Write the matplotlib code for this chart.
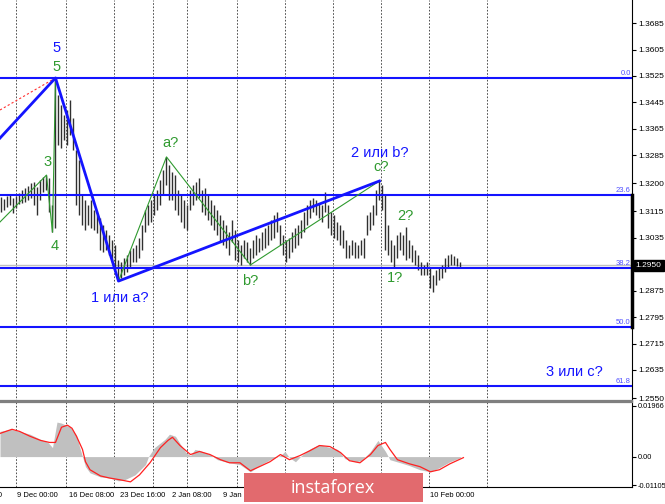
import matplotlib
matplotlib.use("Agg")
import matplotlib.pyplot as plt
from matplotlib.patches import Rectangle
from matplotlib.transforms import blended_transform_factory

plt.rcParams['font.family'] = ['Liberation Sans', 'DejaVu Sans']

# H4 bars (high / low)
bar_high = [1.3158, 1.3152, 1.3161, 1.3164, 1.3155, 1.3161, 1.3170, 1.3180, 1.3186, 1.3192,
            1.3201, 1.3204, 1.3189, 1.3210, 1.3219, 1.3225, 1.3216, 1.3134, 1.3519, 1.3467,
            1.3437, 1.3407, 1.3422, 1.3452, 1.3398, 1.3301, 1.3270, 1.3164, 1.3149, 1.3134,
            1.3149, 1.3119, 1.3104, 1.3095, 1.3074, 1.3058, 1.3043, 1.3028, 1.3013, 1.2968,
            1.2962, 1.2974, 1.2983, 1.2998, 1.3004, 1.3013, 1.3035, 1.3074, 1.3119, 1.3134,
            1.3149, 1.3164, 1.3180, 1.3210, 1.3240, 1.3280, 1.3255, 1.3234, 1.3225, 1.3180,
            1.3164, 1.3149, 1.3134, 1.3180, 1.3195, 1.3204, 1.3216, 1.3180, 1.3186, 1.3164,
            1.3149, 1.3134, 1.3119, 1.3104, 1.3089, 1.3074, 1.3053, 1.3089, 1.3058, 1.3028,
            1.3013, 1.3028, 1.3022, 1.3004, 1.3028, 1.3043, 1.3035, 1.3053, 1.3064, 1.3074,
            1.3089, 1.3104, 1.3113, 1.3074, 1.3043, 1.3028, 1.3035, 1.3053, 1.3064, 1.3074,
            1.3089, 1.3113, 1.3134, 1.3149, 1.3155, 1.3149, 1.3140, 1.3134, 1.3174, 1.3134,
            1.3113, 1.3104, 1.3083, 1.3074, 1.3058, 1.3028, 1.3013, 1.3028, 1.3022, 1.3013,
            1.3028, 1.3035, 1.3104, 1.3113, 1.3134, 1.3180, 1.3207, 1.3195, 1.3164, 1.3074,
            1.3028, 1.3013, 1.3043, 1.3053, 1.3043, 1.3068, 1.3028, 1.3013, 1.2998, 1.2983,
            1.2962, 1.2953, 1.2962, 1.2944, 1.2923, 1.2937, 1.2944, 1.2953, 1.2974, 1.2983,
            1.2986, 1.2980, 1.2974, 1.2962]
bar_low = [1.3113, 1.3119, 1.3128, 1.3134, 1.3110, 1.3125, 1.3137, 1.3140, 1.3143, 1.3149,
           1.3155, 1.3134, 1.3104, 1.3149, 1.3174, 1.3180, 1.3113, 1.3052, 1.3064, 1.3316,
           1.3307, 1.3331, 1.3316, 1.3346, 1.3301, 1.3134, 1.3104, 1.3074, 1.3058, 1.3074,
           1.3064, 1.3058, 1.3049, 1.2998, 1.2992, 1.2998, 1.2983, 1.2962, 1.2937, 1.2904,
           1.2913, 1.2923, 1.2932, 1.2944, 1.2962, 1.2962, 1.2974, 1.2998, 1.3052, 1.3074,
           1.3083, 1.3104, 1.3119, 1.3134, 1.3164, 1.3195, 1.3149, 1.3149, 1.3119, 1.3104,
           1.3083, 1.3064, 1.3058, 1.3119, 1.3134, 1.3149, 1.3155, 1.3113, 1.3104, 1.3089,
           1.3074, 1.3058, 1.3043, 1.3022, 1.3013, 1.3004, 1.2983, 1.3022, 1.2968, 1.2962,
           1.2953, 1.2974, 1.2962, 1.2953, 1.2974, 1.2983, 1.2992, 1.2998, 1.3004, 1.3013,
           1.3028, 1.3035, 1.3053, 1.3013, 1.2983, 1.2962, 1.2974, 1.2992, 1.3004, 1.3013,
           1.3035, 1.3053, 1.3074, 1.3095, 1.3113, 1.3104, 1.3095, 1.3083, 1.3113, 1.3064,
           1.3043, 1.3035, 1.3028, 1.3013, 1.3004, 1.2974, 1.2974, 1.2983, 1.2974, 1.2974,
           1.2983, 1.2974, 1.3043, 1.3058, 1.3074, 1.3104, 1.3149, 1.3119, 1.2998, 1.2983,
           1.2962, 1.2944, 1.2974, 1.2998, 1.2983, 1.2968, 1.2974, 1.2962, 1.2953, 1.2937,
           1.2923, 1.2923, 1.2923, 1.2883, 1.2871, 1.2892, 1.2907, 1.2913, 1.2932, 1.2944,
           1.2953, 1.2953, 1.2950, 1.2944]

price_ticks = [1.3685, 1.3605, 1.3525, 1.3445, 1.3365, 1.3285, 1.3200, 1.3115,
               1.3035, 1.2875, 1.2795, 1.2715, 1.2635, 1.2550]
last_price = 1.2950
bid_line = 1.2952

fib_top = 1.3519
fib_bottom = 1.2012
fib_levels = [0.0, 23.6, 38.2, 50.0, 61.8]

# MACD histogram and signal line
hist_x = [-0.5, 3, 6, 9.5, 13, 15.5, 17, 18.5, 20, 23, 25, 26, 27, 28, 29.5, 33, 36, 39, 41, 44.5,
          48, 49, 51, 54.5, 56, 58, 59.5, 61.5, 63, 64.5, 66, 69.5, 72, 76, 79.5, 83, 86, 89.5, 93,
          94.5, 96, 98, 100, 103, 106, 109.5, 112, 114.5, 118, 120, 123, 125.5, 128, 129.5, 133,
          136, 139.5, 143, 146, 149.5, 153]
hist_val = [0.0098, 0.0106, 0.0098, 0.0087, 0.0067, 0.0055, 0.0035, 0.0134, 0.0130, 0.0114,
            0.0083, 0.0039, 0.0, -0.0039, -0.0063, -0.0079, -0.0083, -0.0094, -0.0090, -0.0071,
            -0.0031, 0.0, 0.0035, 0.0067, 0.0087, 0.0079, 0.0051, 0.0016, 0.0004, 0.0028,
            0.0024, 0.0008, -0.0012, -0.0024, -0.0031, -0.0059, -0.0035, -0.0012, 0.0004, 0.0020,
            -0.0004, -0.0020, 0.0004, 0.0031, 0.0047, 0.0035, 0.0028, -0.0008, -0.0020, -0.0016,
            0.0020, 0.0063, 0.0020, -0.0012, -0.0024, -0.0035, -0.0051, -0.0059, -0.0043, -0.0020,
            -0.0004]
signal_x = [-0.5, 3.5, 6, 9.5, 13, 16, 18, 20, 22, 23.5, 25, 27, 28, 29.5, 33, 36, 39.5, 43, 46,
            49.5, 53, 55.5, 57, 59.5, 63, 66, 69.5, 73, 76, 79.5, 83, 86, 89.5, 93, 96, 99.5, 103,
            106, 109.5, 113, 116, 119.5, 123, 125.5, 128, 129.5, 132, 136, 139.5, 143, 146, 149.5, 154]
signal_val = [0.0090, 0.0106, 0.0098, 0.0079, 0.0063, 0.0055, 0.0055, 0.0114, 0.0122, 0.0110,
              0.0079, 0.0028, -0.0020, -0.0051, -0.0075, -0.0083, -0.0090, -0.0098, -0.0071, -0.0024,
              0.0035, 0.0063, 0.0075, 0.0043, 0.0008, 0.0020, 0.0008, -0.0012, -0.0024, -0.0024,
              -0.0055, -0.0039, -0.0020, 0.0008, -0.0012, 0.0004, 0.0024, 0.0043, 0.0039, 0.0016,
              -0.0016, -0.0024, 0.0008, 0.0043, 0.0055, 0.0028, -0.0012, -0.0028, -0.0039, -0.0059,
              -0.0051, -0.0028, -0.0004]
macd_ticks = [0.01966, 0.0, -0.01105]
macd_labels = ['0.01966', '0.00', '-0.01105']

grid_x = [5, 21.5, 37.5, 50.5, 62, 78.5, 94.5, 110.5, 126.5, 142.5, 162]
time_x = [-13.5, 5.2, 22.4, 39.6, 56.8, 74, 143]
time_labels = ['2 Dec 16:00', '9 Dec 00:00', '16 Dec 08:00', '23 Dec 16:00', '2 Jan 08:00',
               '9 Jan 16:00', '10 Feb 00:00']

# wave markup
blue_wave_x = [-0.5, 18, 39, 126]
blue_wave_y = [1.3337, 1.3519, 1.2904, 1.3207]
green_wave1_x = [-0.5, 15, 17, 18]
green_wave1_y = [1.3083, 1.3225, 1.3052, 1.3519]
green_wave2_x = [39, 55, 83, 126]
green_wave2_y = [1.2904, 1.3280, 1.2953, 1.3207]
red_trend_x = [-0.5, 18]
red_trend_y = [1.3422, 1.3519]

blue_labels = [('5', 18.2, 1.3610), ('1 или a?', 39.5, 1.2853),
               ('2 или b?', 126.2, 1.3292), ('3 или c?', 191, 1.2629)]
green_labels = [('5', 18.2, 1.3552), ('3', 15.3, 1.3265), ('4', 17.6, 1.3010),
                ('a?', 56.3, 1.3322), ('b?', 82.8, 1.2904), ('c?', 126.6, 1.3250),
                ('2?', 134.5, 1.3101), ('1?', 131.2, 1.2914)]

BLUE = '#1414ff'
GREEN = '#2f9a2f'

fig = plt.figure(figsize=(6.65, 5.04), dpi=100)
ax = fig.add_axes([0, 1 - 401 / 504, 632 / 665, 401 / 504])
mx = fig.add_axes([0, 1 - 487 / 504, 632 / 665, 85 / 504])

xmin, xmax = -0.5, 210.2
for a in (ax, mx):
    a.set_xlim(xmin, xmax)
    a.set_xticks([])
    a.spines['left'].set_visible(False)
    a.spines['right'].set_color('black')
    a.yaxis.tick_right()
    a.tick_params(axis='y', labelsize=6, length=3, pad=1.5, width=0.8)
    for gx in grid_x:
        a.axvline(gx, color='#333333', lw=0.6, ls=(0, (2, 2)), zorder=0)

# price panel
ax.set_ylim(1.2541, 1.3755)
ax.set_yticks(price_ticks)
ax.set_yticklabels(['%.4f' % p for p in price_ticks])
ax.spines['top'].set_visible(False)
ax.spines['bottom'].set_color('#7f7f7f')
ax.spines['bottom'].set_linewidth(1.6)

ax.axhline(bid_line, color='#c0c0c0', lw=1, zorder=1)
ax.vlines(range(len(bar_high)), bar_low, bar_high, color='#303030', lw=1, zorder=2)

tr = blended_transform_factory(ax.transAxes, ax.transData)
for lev in fib_levels:
    p = fib_top - (fib_top - fib_bottom) * lev / 100
    ax.axhline(p, color=BLUE, lw=1.5, zorder=3)
    ax.text(0.998, p + 0.0003, '%.1f' % lev, transform=tr, ha='right', va='bottom',
            fontsize=5.5, color='#5050ff')
p236 = fib_top - (fib_top - fib_bottom) * 0.236
p500 = fib_top - (fib_top - fib_bottom) * 0.5
ax.plot([1, 1], [p236, p500], transform=tr, color='black', lw=2.5, clip_on=False, zorder=5)

ax.plot(red_trend_x, red_trend_y, color='#ff3030', lw=0.8, ls=(0, (2, 2)), zorder=3)
ax.plot(green_wave1_x, green_wave1_y, color=GREEN, lw=0.8, zorder=3)
ax.plot(green_wave2_x, green_wave2_y, color=GREEN, lw=0.8, zorder=3)
ax.plot(blue_wave_x, blue_wave_y, color=BLUE, lw=2, zorder=4)

for t, x, y in blue_labels:
    ax.text(x, y, t, color=BLUE, fontsize=10.5, ha='center', va='center', zorder=6)
for t, x, y in green_labels:
    ax.text(x, y, t, color=GREEN, fontsize=10.5, ha='center', va='center', zorder=6)

ax.text(1.006, last_price, '%.4f' % last_price, transform=tr, ha='left', va='center',
        fontsize=6, color='white', zorder=7,
        bbox=dict(facecolor='black', edgecolor='black', boxstyle='square,pad=0.25'))

# MACD panel
mx.set_ylim(-0.0118, 0.0212)
mx.fill_between(hist_x, 0, hist_val, color='#c0c0c0', lw=0, zorder=1)
mx.plot(signal_x, signal_val, color='#ff2020', lw=0.9, zorder=2)
mx.set_yticks(macd_ticks)
mx.set_yticklabels(macd_labels)
mx.tick_params(axis='y', labelsize=5.3, pad=1)
mx.spines['top'].set_color('#7f7f7f')
mx.spines['top'].set_linewidth(1.6)
mx.spines['bottom'].set_color('black')

trx = blended_transform_factory(mx.transData, mx.transAxes)
for x, t in zip(time_x, time_labels):
    mx.text(x, -0.095, t, transform=trx, ha='left', va='center', fontsize=5.5, clip_on=False)

# instaforex logo
fig.patches.append(Rectangle((244 / 665, 1 - 502 / 504), 179 / 665, 29 / 504,
                             transform=fig.transFigure, facecolor='#e26a6e',
                             edgecolor='none', zorder=10))
fig.text(333 / 665, 1 - 488 / 504, 'instaforex', color='white', fontsize=13,
         family=['Open Sans', 'DejaVu Sans'], ha='center', va='center', zorder=11)

fig.savefig('out.png', dpi=100)
